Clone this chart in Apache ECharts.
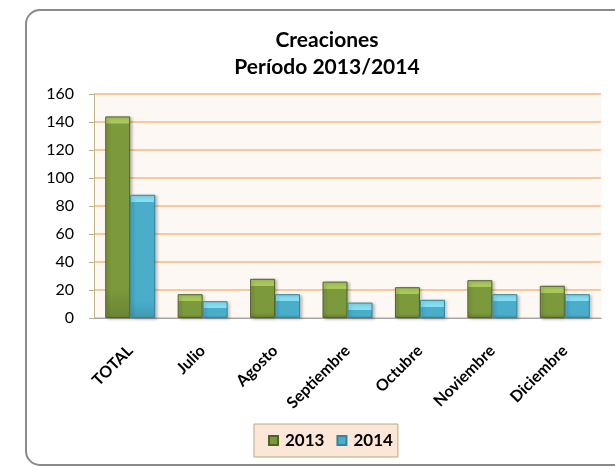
<!DOCTYPE html>
<html>
<head>
<meta charset="utf-8">
<script src="https://cdn.jsdelivr.net/npm/echarts@6/dist/echarts.min.js"></script>
<style>
  html, body { margin: 0; padding: 0; background: #fff; }
  #chart { width: 615px; height: 468px; }
</style>
</head>
<body>
<div id="chart"></div>
<script>
// datos
const categories = ['TOTAL', 'Julio', 'Agosto', 'Septiembre', 'Octubre', 'Noviembre', 'Diciembre']
const serie2013 = [144, 17, 28, 26, 22, 27, 23]
const serie2014 = [88, 12, 17, 11, 13, 17, 17]
const yTicks = [0, 20, 40, 60, 80, 100, 120, 140, 160]

const PX_PER_UNIT = 224 / 160 // alto del área / rango del eje, solo para el bisel

// bisel superior aproximado con un degradado vertical
const bevel = (value, light, main, dark) => {
  const k = Math.min(0.45, 7 / (value * PX_PER_UNIT))
  return {
    type: 'linear', x: 0, y: 0, x2: 0, y2: 1,
    colorStops: [
      { offset: 0, color: light },
      { offset: k, color: light },
      { offset: k + 0.001, color: main },
      { offset: 0.85, color: main },
      { offset: 1, color: dark }
    ]
  }
}

const makeSeries = (name, data, light, main, dark, border) => ({
  name: name,
  type: 'bar',
  barWidth: 25,
  barGap: '0%',
  data: data.map(v => ({
    value: v,
    itemStyle: { color: bevel(v, light, main, dark) }
  })),
  itemStyle: {
    color: main,
    borderColor: border,
    borderWidth: 1,
    shadowColor: 'rgba(0, 0, 0, 0.25)',
    shadowBlur: 3,
    shadowOffsetX: 2,
    shadowOffsetY: 1
  }
})

const chart = echarts.init(document.getElementById('chart'))

chart.setOption({
  animation: false,
  textStyle: { fontFamily: 'Lato, "Noto Sans", sans-serif' },
  graphic: [
    {
      type: 'rect',
      z: -10,
      shape: { x: 26, y: 10, width: 620, height: 455, r: 14 },
      style: { fill: '#ffffff', stroke: '#8a8a8a', lineWidth: 2 }
    }
  ],
  title: {
    text: 'Creaciones\nPeríodo 2013/2014',
    left: 327,
    textAlign: 'center',
    top: 27,
    padding: 0,
    textStyle: {
      fontSize: 21,
      fontWeight: 'bold',
      color: '#000',
      lineHeight: 27
    }
  },
  legend: {
    data: ['2013', '2014'],
    left: 254,
    top: 424,
    padding: [8, 5, 8, 14],
    backgroundColor: '#fbe6d8',
    borderColor: '#b7aa7c',
    borderWidth: 1,
    borderRadius: 0,
    icon: 'rect',
    itemWidth: 9,
    itemHeight: 9,
    itemGap: 12,
    textStyle: { fontSize: 17, fontWeight: 'bold', color: '#000', padding: [0, 0, 0, 2] }
  },
  grid: {
    left: 94,
    right: 14,
    top: 94,
    bottom: 150,
    show: true,
    backgroundColor: '#fdf8f3',
    borderWidth: 0
  },
  xAxis: {
    type: 'category',
    data: categories,
    axisLine: { lineStyle: { color: '#a6a6a6', width: 1 } },
    axisTick: { show: false },
    axisLabel: {
      rotate: 45,
      interval: 0,
      margin: 30,
      fontSize: 16,
      fontWeight: 'bold',
      color: '#000'
    }
  },
  yAxis: {
    type: 'value',
    min: yTicks[0],
    max: yTicks[yTicks.length - 1],
    interval: 20,
    axisLine: { show: true, lineStyle: { color: '#bdb48a', width: 1 } },
    axisTick: { show: true, length: 5, lineStyle: { color: '#bdb48a' } },
    axisLabel: { fontSize: 16, color: '#000', margin: 20 },
    splitLine: { lineStyle: { color: '#f9c79a', width: 2 } }
  },
  series: [
    makeSeries('2013', serie2013, '#a9c95c', '#7c9a3c', '#6a8532', '#4f6228'),
    makeSeries('2014', serie2014, '#86def2', '#4aaecb', '#3f9bb5', '#31859c')
  ]
})
</script>
</body>
</html>
